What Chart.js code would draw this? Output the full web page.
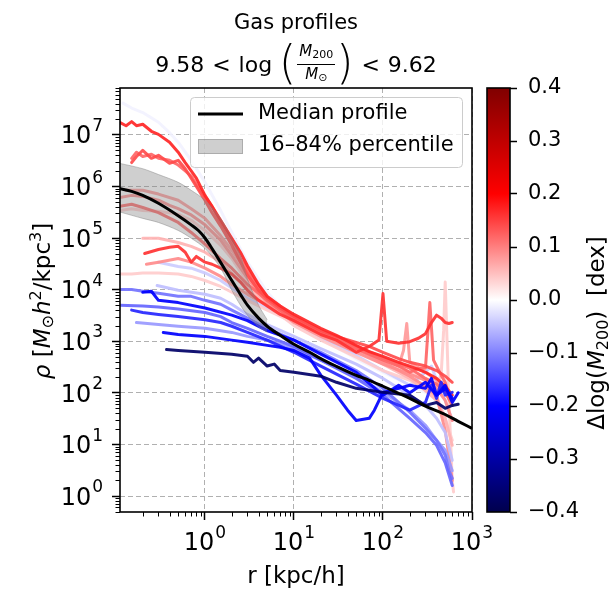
<!DOCTYPE html>
<html><head><meta charset="utf-8">
<script src="https://cdn.jsdelivr.net/npm/chart.js@4.4.1/dist/chart.umd.min.js"></script>
<style>
body{margin:0;background:#fff;}
#wrap{position:relative;width:615px;height:591px;font-family:"DejaVu Sans";color:#000;overflow:hidden;}
canvas{position:absolute;left:0;top:0;}
.txt{position:absolute;white-space:nowrap;}
#t1{left:0;width:592px;top:10px;text-align:center;font-size:21px;line-height:25px;}
#t2{left:0;width:592px;top:39px;height:50px;display:flex;justify-content:center;align-items:center;font-size:22px;}
.op{margin:0 8px;}
.par{font-size:44px;line-height:1;display:inline-block;transform:scaleY(1.05);font-weight:300;position:relative;top:-2px;}
.frac{display:inline-flex;flex-direction:column;align-items:center;font-size:15px;line-height:19px;margin:0 1px;}
.num{border-bottom:1px solid #000;padding:0 2px;}
.frac sub{font-size:11px;vertical-align:-2px;}
#ylab{left:-80px;top:287px;width:240px;height:28px;text-align:center;font-size:23px;transform:rotate(-90deg);}
#ylab sup{font-size:16px;vertical-align:9px;}
#ylab sub{font-size:16px;vertical-align:-3px;}
#cblab{left:468px;top:318px;width:260px;height:30px;text-align:center;font-size:23px;transform:rotate(-90deg);}
#cblab sub{font-size:16px;vertical-align:-4px;}
</style></head><body>
<div id="wrap">
<canvas id="main" width="615" height="591"></canvas>
<canvas id="cbar" width="615" height="591"></canvas>
<div class="txt" id="t1">Gas profiles</div>
<div class="txt" id="t2"><span>9.58</span><span class="op">&lt;</span><span>log&nbsp;</span><span class="par">(</span><span class="frac"><span class="num"><i>M</i><sub>200</sub></span><span class="den"><i>M</i><sub>⊙</sub></span></span><span class="par">)</span><span class="op">&lt;</span><span>9.62</span></div>
<div class="txt" id="ylab"><i>ρ</i> [<i>M</i><sub>⊙</sub><i>h</i><sup>2</sup>/kpc<sup>3</sup>]</div>
<div class="txt" id="cblab">Δlog(<i>M</i><sub>200</sub>)&nbsp; [dex]</div>
</div>
<script>
// ---------------- data ----------------
const xRange = [0.111, 1000];
const yRange = [0.49, 8.07e7];
const xTickValues = [1, 10, 100, 1000];
const xTickBase = '10';
const xTickExps = ['0', '1', '2', '3'];
const yTickValues = [1, 10, 100, 1e3, 1e4, 1e5, 1e6, 1e7];
const yTickBase = '10';
const yTickExps = ['0', '1', '2', '3', '4', '5', '6', '7'];
const cbarRange = [-0.4, 0.4];
const cbarTickValues = [-0.4, -0.3, -0.2, -0.1, 0.0, 0.1, 0.2, 0.3, 0.4];
const cbarTickLabels = ['−0.4', '−0.3', '−0.2', '−0.1', '0.0', '0.1', '0.2', '0.3', '0.4'];

// median profile
const medianR   = [0.11,0.15,0.2,0.3,0.5,0.7,0.85,1,1.15,1.3,1.6,2,2.5,3,4,5,7,10,15,20,30,50,70,100,150,200,300,500,700,1000];
const medianRho = [9.1e5,8.0e5,6.7e5,4.7e5,2.7e5,1.8e5,1.38e5,1.0e5,7.0e4,5.0e4,2.8e4,1.5e4,8.1e3,5.0e3,2.8e3,1.95e3,1.3e3,870,610,460,326,218,175,134,98,78,55,38,28,20.5];
// 16-84 percentile band
const bandR     = [0.11,0.2,0.3,0.5,0.7,1,1.5,2,2.5,3,4,5];
const bandHigh  = [2.8e6,2.2e6,1.7e6,1.2e6,8.4e5,5.4e5,2.4e5,9.9e4,4.6e4,1.6e4,5.0e3,2.6e3];
const bandLow   = [3.2e5,2.4e5,2.0e5,1.4e5,9.9e4,6.3e4,2.6e4,9.7e3,5.0e3,3.2e3,1.9e3,1.5e3];

// individual halo profiles (r in kpc/h, rho), with Delta log(M200) in dex
const w1Delta = -0.01;
const w1R   = [0.12,0.15,0.2,0.3,0.4,0.5,0.7,1,1.5,2,3,5,10,20,50,100,200,300,400,450,500,600];
const w1Rho = [4.1e7,3.3e7,2.7e7,1.75e7,1.1e7,7.2e6,3.2e6,1.2e6,3.4e5,1.28e5,3.4e4,8.9e3,2.5e3,1.14e3,460,250,140,102,140,250,175,71];
const w2Delta = -0.04;
const w2R   = [0.3,0.5,0.7,1,1.5,2,3,5,10,20,50,100,200,300,350,400,500,600];
const w2Rho = [3.4e4,2.8e4,2.6e4,2.1e4,1.5e4,1.07e4,6.8e3,4.4e3,2.3e3,1.14e3,530,270,140,250,330,175,71,29];
const p9Delta = 0.04;
const p9R   = [0.11,0.15,0.2,0.3,0.5,0.7,1,1.5,2,3,5,10,20,50,100,200,300,400,450,480,500,520,550,600,620];
const p9Rho = [2.0e4,2.0e4,2.1e4,2.1e4,2.0e4,1.8e4,1.5e4,1.15e4,8.9e3,6.2e3,4.0e3,2.3e3,1.24e3,660,390,250,175,134,220,1.6e3,1.4e4,1.6e3,71,2.0,1.2];
const p7Delta = 0.04;
const p7R   = [0.11,0.15,0.2,0.3,0.5,0.7,1,1.5,2,3,5,10,20,50,100,200,300,400,500,600];
const p7Rho = [3.4e5,3.7e5,3.4e5,3.3e5,2.9e5,2.2e5,1.4e5,7.2e4,4.0e4,1.4e4,5.0e3,2.0e3,1.05e3,490,270,175,122,86,32,12];
const p11Delta = 0.06;
const p11R   = [0.2,0.3,0.5,0.7,1,1.5,2,3,5,10,20,50,100,200,300,400,500,600];
const p11Rho = [9.9e4,9.9e4,8.2e4,6.9e4,5.3e4,3.4e4,2.1e4,1.07e4,5.3e3,2.5e3,1.35e3,660,360,190,110,71,32,9.6];
const p5Delta = 0.08;
const p5R   = [0.13,0.2,0.3,0.5,0.7,1,1.5,2,3,5,10,20,50,100,150,170,185,200,300,400,500,600];
const p5Rho = [8.4e5,8.4e5,7.1e5,5.4e5,3.7e5,2.4e5,1.1e5,5.8e4,2.1e4,7.4e3,3.0e3,1.6e3,790,490,330,660,2.2e3,390,250,175,102,71];
const p10Delta = 0.09;
const p10R   = [0.22,0.3,0.5,0.7,1,1.5,2,3,5,10,20,50,100,200,300,400,500,600];
const p10Rho = [3.1e4,3.4e4,4.0e4,3.4e4,2.6e4,1.8e4,1.26e4,8.1e3,5.0e3,2.8e3,1.48e3,720,390,210,134,86,18.7,2.0];
const p6Delta = 0.09;
const p6R   = [0.11,0.15,0.2,0.3,0.4,0.5,0.7,1,1.5,2,3,5,10,20,50,100,200,300,400,500,600];
const p6Rho = [6.1e5,6.7e5,6.4e5,5.4e5,4.3e5,3.7e5,2.8e5,1.8e5,9.0e4,4.6e4,1.66e4,5.6e3,2.3e3,1.24e3,610,360,230,175,122,71,29];
const p8Delta = 0.12;
const p8R   = [0.11,0.15,0.2,0.3,0.5,0.7,1,1.5,2,3,5,10,20,50,100,150,200,250,300,336,370,450,500,550];
const p8Rho = [4.1e5,4.5e5,3.9e5,3.1e5,2.0e5,1.28e5,7.6e4,4.0e4,2.6e4,1.26e4,6.2e3,2.5e3,1.4e3,720,430,330,250,300,300,5.6e3,430,220,160,90];
const p2Delta = 0.12;
const p2R   = [0.15,0.17,0.2,0.25,0.3,0.4,0.5,0.6,0.7,0.8,1,1.2,1.5,2,2.5,3,4,5,7,10,20,30,50,70,100,150,200,300,400,500,600];
const p2Rho = [3.5e6,4.6e6,3.8e6,4.2e6,3.5e6,3.2e6,2.6e6,2.0e6,1.58e6,1.1e6,6.4e5,4.1e5,2.0e5,9.0e4,4.0e4,2.4e4,1.07e4,6.2e3,4.0e3,2.8e3,1.48e3,1.14e3,790,610,460,360,300,190,147,102,57];
const p3Delta = 0.14;
const p3R   = [0.15,0.17,0.2,0.25,0.3,0.4,0.5,0.6,0.7,0.8,1,1.2,1.5,2,2.5,3,4,5,7,10,20,30,50,70,100,150,200,300,400,500,600];
const p3Rho = [2.9e6,3.8e6,5.0e6,3.5e6,4.0e6,2.8e6,3.2e6,2.2e6,1.44e6,1.0e6,5.4e5,3.1e5,1.7e5,7.2e4,3.4e4,1.9e4,9.7e3,6.8e3,4.4e3,3.0e3,1.6e3,1.24e3,950,790,610,460,390,330,270,210,160];
const p4Delta = 0.16;
const p4R   = [0.21,0.3,0.4,0.5,0.6,0.7,0.8,1,1.2,1.5,2,2.5,3,4,5,7,10,20,30,50,70,90,100,110,150,200,250,300,350,400,450,500,550,600];
const p4Rho = [5.0e4,6.0e4,6.6e4,6.9e4,5.3e4,3.4e4,4.4e4,3.4e4,3.1e4,2.6e4,2.0e4,1.4e4,9.7e3,6.2e3,4.8e3,3.3e3,2.5e3,1.35e3,1.05e3,610,790,1.05e3,8.4e3,1.0e3,910,980,1.14e3,1.4e3,2.3e3,3.2e3,2.8e3,2.3e3,2.2e3,2.3e3];
const p1Delta = 0.17;
const p1R   = [0.11,0.13,0.15,0.17,0.2,0.25,0.3,0.4,0.5,0.6,0.7,0.8,1,1.2,1.5,2,2.5,3,4,5,7,10,20,30,50,70,100,150,200,300,400,500,600];
const p1Rho = [1.75e7,1.5e7,1.8e7,1.5e7,1.6e7,1.17e7,1.02e7,7.2e6,4.6e6,2.9e6,2.0e6,1.44e6,6.7e5,4.1e5,2.2e5,9.9e4,5.3e4,2.9e4,1.26e4,7.4e3,4.8e3,3.3e3,1.78e3,1.3e3,830,630,510,390,330,250,190,134,90];
const b4Delta = -0.05;
const b4R   = [0.29,0.5,1,1.5,2,3,5,10,20,50,100,200,300,400,500,600];
const b4Rho = [1.2e4,9.7e3,8.1e3,6.8e3,5.2e3,3.3e3,2.1e3,1.24e3,720,360,190,90,57,32,17,4.9];
const b7Delta = -0.08;
const b7R   = [0.17,0.3,0.5,1,2,3,5,10,20,50,100,200,300,400,500,600];
const b7Rho = [2.3e3,2.1e3,1.95e3,1.78e3,1.48e3,1.24e3,1.05e3,720,430,210,102,46,23.5,12,7.7,3.1];
const b1Delta = -0.11;
const b1R   = [0.11,0.15,0.2,0.3,0.5,0.7,1,1.5,2,3,5,10,20,50,100,200,300,400,500,550,600];
const b1Rho = [1.0e4,1.0e4,9.3e3,8.5e3,7.4e3,7.4e3,6.2e3,5.2e3,4.0e3,2.8e3,1.78e3,1.05e3,610,270,122,42,20.5,12,6.2,3.1,2.2];
const b5Delta = -0.12;
const b5R   = [0.11,0.2,0.3,0.5,1,1.5,2,3,5,10,20,50,100,200,300,400,500,600];
const b5Rho = [5.0e3,4.8e3,4.6e3,4.2e3,3.6e3,3.0e3,2.3e3,1.78e3,1.24e3,790,430,190,90,32,17,9.6,4.4,1.6];
const b6Delta = -0.17;
const b6R   = [0.15,0.2,0.3,0.5,1,1.5,2,3,5,10,20,50,100,200,300,350,400,450,500,600];
const b6Rho = [4.0e3,3.6e3,3.3e3,3.0e3,2.6e3,2.3e3,1.95e3,1.48e3,1.05e3,610,330,147,78,46,65,140,78,160,90,102];
const b8Delta = -0.20;
const b8R   = [0.34,0.5,1,2,3,5,7,10,15,20,30,40,50,70,80,100,150,200,300,350,400,500,600,700];
const b8Rho = [1.48e3,1.35e3,1.24e3,1.05e3,950,830,760,660,470,220,90,46,29,32,46,102,122,140,122,190,90,140,65,100];
const b3Delta = -0.20;
const b3R   = [0.2,0.25,0.3,0.5,1,2,3,5,10,20,50,100,150,200,300,400,500,600];
const b3Rho = [8.9e3,9.3e3,6.2e3,5.6e3,4.4e3,3.2e3,2.5e3,1.6e3,1.05e3,560,250,90,140,100,160,90,120,80];
const b9Delta = -0.37;
const b9R   = [0.37,0.5,1,2,3,3.5,4,5,6,7,10,20,30,50,100,200,300,400,500,600,700];
const b9Rho = [690,660,610,560,510,390,470,330,360,270,250,210,160,122,102,90,57,65,50,57,60];

// drawing order: first = bottom
const profiles = [
  [w1Delta, w1R, w1Rho], [w2Delta, w2R, w2Rho], [p9Delta, p9R, p9Rho], [p7Delta, p7R, p7Rho],
  [p11Delta, p11R, p11Rho], [p5Delta, p5R, p5Rho], [p10Delta, p10R, p10Rho], [p6Delta, p6R, p6Rho],
  [p8Delta, p8R, p8Rho], [p2Delta, p2R, p2Rho], [p3Delta, p3R, p3Rho], [p4Delta, p4R, p4Rho], [p1Delta, p1R, p1Rho],
  [b4Delta, b4R, b4Rho], [b7Delta, b7R, b7Rho], [b1Delta, b1R, b1Rho], [b5Delta, b5R, b5Rho],
  [b6Delta, b6R, b6Rho], [b8Delta, b8R, b8Rho], [b3Delta, b3R, b3Rho], [b9Delta, b9R, b9Rho]
];

// -------------- colormap (matplotlib "seismic") --------------
const seismicStops = [[0,[0,0,0.3]],[0.25,[0,0,1]],[0.5,[1,1,1]],[0.75,[1,0,0]],[1,[0.5,0,0]]];
function seismic(t){
  t = Math.max(0, Math.min(1, t));
  for (let i = 0; i < seismicStops.length - 1; i++) {
    const [a, ca] = seismicStops[i], [b, cb] = seismicStops[i+1];
    if (t <= b) {
      const f = (t - a) / (b - a);
      return ca.map((c, k) => Math.round(255 * (c + (cb[k] - c) * f)));
    }
  }
  return [128,0,0];
}
function deltaColor(d, alpha){
  const c = seismic((d - cbarRange[0]) / (cbarRange[1] - cbarRange[0]));
  return `rgba(${c[0]},${c[1]},${c[2]},${alpha})`;
}
const toXY = (rs, ys) => rs.map((r, i) => ({x: r, y: ys[i]}));

const datasets = [];
profiles.forEach(([d, rs, ys]) => {
  datasets.push({label:'p', data: toXY(rs, ys), borderColor: deltaColor(d, 0.92), borderWidth: 3,
    pointRadius: 0, fill: false, tension: 0, borderJoinStyle: 'round', borderCapStyle:'round'});
});
datasets.push({label:'band16', data: toXY(bandR, bandHigh), borderColor:'rgba(128,128,128,0.45)', borderWidth:1,
  backgroundColor:'rgba(128,128,128,0.38)', pointRadius:0, fill:'+1', tension:0.3});
datasets.push({label:'band84', data: toXY(bandR, bandLow), borderColor:'rgba(128,128,128,0.45)', borderWidth:1,
  pointRadius:0, fill:false, tension:0.3});
datasets.push({label:'Median profile', data: toXY(medianR, medianRho), borderColor:'#000', borderWidth:3,
  pointRadius:0, fill:false, cubicInterpolationMode:'monotone'});
const N = datasets.length;
datasets.forEach((ds, i) => { ds.order = N - i; });

// -------------- plugins --------------
const FONT = '"DejaVu Sans"';
function drawPow(ctx, base, exp, x, baseline, align){
  ctx.font = '24px ' + FONT;
  const w1 = ctx.measureText(base).width;
  ctx.font = '17px ' + FONT;
  const w2 = ctx.measureText(exp).width;
  const total = w1 + 1 + w2;
  const x0 = align === 'center' ? x - total / 2 : x - total;
  ctx.font = '24px ' + FONT; ctx.fillText(base, x0, baseline);
  ctx.font = '17px ' + FONT; ctx.fillText(exp, x0 + w1 + 1, baseline - 12.5);
}
const framePlugin = {
  id: 'frame',
  afterDraw(chart){
    const ctx = chart.ctx, ca = chart.chartArea;
    const xs = chart.scales.x, ys = chart.scales.y;
    ctx.save();
    // minor ticks
    ctx.strokeStyle = '#000'; ctx.lineWidth = 1;
    ctx.beginPath();
    for (let e = -1; e <= 3; e++) for (let m = 2; m <= 9; m++) {
      const v = m * Math.pow(10, e);
      if (v < xs.min || v > xs.max) continue;
      const px = Math.round(xs.getPixelForValue(v)) + 0.5;
      ctx.moveTo(px, ca.bottom); ctx.lineTo(px, ca.bottom + 4.5);
    }
    for (let e = -1; e <= 7; e++) for (let m = 2; m <= 9; m++) {
      const v = m * Math.pow(10, e);
      if (v < ys.min || v > ys.max) continue;
      const py = Math.round(ys.getPixelForValue(v)) + 0.5;
      ctx.moveTo(ca.left, py); ctx.lineTo(ca.left - 4.5, py);
    }
    ctx.stroke();
    // axes frame
    ctx.lineWidth = 1.6;
    ctx.strokeRect(ca.left, ca.top, ca.right - ca.left, ca.bottom - ca.top);
    // tick labels (10 with superscript exponent)
    ctx.fillStyle = '#000'; ctx.textBaseline = 'alphabetic'; ctx.textAlign = 'left';
    xTickValues.forEach((v, i) => drawPow(ctx, xTickBase, xTickExps[i], xs.getPixelForValue(v), 550, 'center'));
    yTickValues.forEach((v, i) => drawPow(ctx, yTickBase, yTickExps[i], 103, ys.getPixelForValue(v) + 8.7, 'right'));
    // legend
    const L = 190, T = 97, W = 272, H = 70;
    ctx.beginPath();
    ctx.roundRect(L + 0.5, T + 0.5, W, H, 4);
    ctx.fillStyle = 'rgba(255,255,255,0.8)'; ctx.fill();
    ctx.strokeStyle = '#cccccc'; ctx.lineWidth = 1; ctx.stroke();
    ctx.strokeStyle = '#000'; ctx.lineWidth = 3; ctx.lineCap = 'butt';
    ctx.beginPath(); ctx.moveTo(198, 114); ctx.lineTo(243, 114); ctx.stroke();
    ctx.fillStyle = 'rgba(128,128,128,0.38)'; ctx.fillRect(198, 139, 45, 15);
    ctx.strokeStyle = 'rgba(128,128,128,0.45)'; ctx.lineWidth = 1; ctx.strokeRect(198.5, 139.5, 44, 14);
    ctx.fillStyle = '#000'; ctx.font = '21px ' + FONT; ctx.textBaseline = 'middle'; ctx.textAlign = 'left';
    ctx.fillText('Median profile', 258, 114);
    ctx.fillText('16–84% percentile', 258, 146);
    ctx.restore();
  }
};

const gridOpts = {
  color: '#b0b0b0', lineWidth: 1, drawTicks: true, tickLength: 8, tickWidth: 1.5, tickColor: '#000'
};

new Chart(document.getElementById('main'), {
  type: 'line',
  data: { datasets },
  options: {
    responsive: false, animation: false, devicePixelRatio: 1,
    layout: { padding: { left: 0, right: 143, top: 88, bottom: 0 } },
    plugins: { legend: { display: false }, tooltip: { enabled: false }, title: { display: false } },
    scales: {
      x: {
        type: 'logarithmic', min: xRange[0], max: xRange[1],
        afterBuildTicks: s => { s.ticks = xTickValues.map(v => ({ value: v, major: true })); },
        afterFit: s => { s.height = 79; },
        grid: gridOpts, border: { display: false, dash: [5, 3] },
        ticks: { display: false, autoSkip: false },
        title: { display: true, text: 'r [kpc/h]', color: '#000', font: { family: FONT, size: 23 }, padding: { top: 0, bottom: 0 } }
      },
      y: {
        type: 'logarithmic', min: yRange[0], max: yRange[1],
        afterBuildTicks: s => { s.ticks = yTickValues.map(v => ({ value: v, major: true })); },
        afterFit: s => { s.width = 120; },
        grid: gridOpts, border: { display: false, dash: [5, 3] },
        ticks: { display: false, autoSkip: false }
      }
    }
  },
  plugins: [framePlugin]
});

// -------------- colorbar --------------
const cbarPlugin = {
  id: 'cbarFill',
  beforeDraw(chart){
    const ctx = chart.ctx, ca = chart.chartArea;
    const g = ctx.createLinearGradient(0, ca.bottom, 0, ca.top);
    seismicStops.forEach(([t, c]) => g.addColorStop(t, `rgb(${Math.round(c[0]*255)},${Math.round(c[1]*255)},${Math.round(c[2]*255)})`));
    ctx.save(); ctx.fillStyle = g; ctx.fillRect(ca.left, ca.top, ca.right - ca.left, ca.bottom - ca.top); ctx.restore();
  },
  afterDraw(chart){
    const ctx = chart.ctx, ca = chart.chartArea;
    ctx.save(); ctx.strokeStyle = '#000'; ctx.lineWidth = 1.6;
    ctx.strokeRect(ca.left, ca.top, ca.right - ca.left, ca.bottom - ca.top); ctx.restore();
  }
};
new Chart(document.getElementById('cbar'), {
  type: 'scatter',
  data: { datasets: [] },
  options: {
    responsive: false, animation: false, devicePixelRatio: 1,
    layout: { padding: { left: 487, right: 0, top: 88, bottom: 79 } },
    plugins: { legend: { display: false }, tooltip: { enabled: false } },
    scales: {
      x: { display: false, min: 0, max: 1 },
      y: {
        position: 'right', min: cbarRange[0], max: cbarRange[1],
        afterBuildTicks: s => { s.ticks = cbarTickValues.map(v => ({ value: v })); },
        afterFit: s => { s.width = 105; },
        grid: { drawOnChartArea: false, drawTicks: true, tickLength: 7, tickWidth: 1.5, tickColor: '#000' },
        border: { display: false },
        ticks: { autoSkip: false, padding: 11, color: '#000', font: { family: FONT, size: 21 },
          callback: (v, i) => cbarTickLabels[i] }
      }
    }
  },
  plugins: [cbarPlugin]
});
</script>
</body></html>
